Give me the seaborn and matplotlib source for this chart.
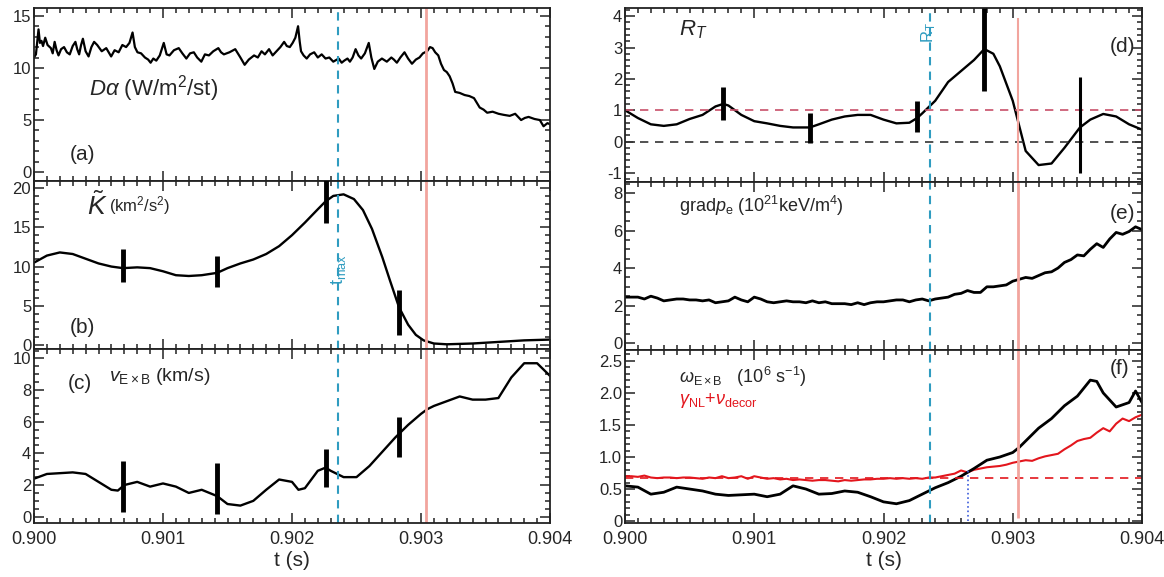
import numpy as np
import matplotlib
matplotlib.use("Agg")
import matplotlib.pyplot as plt
from matplotlib.ticker import MultipleLocator, FuncFormatter
import seaborn as sns

# ---- data (t in ms after 0.900 s) ----
t_da = [0.000, 0.015, 0.035, 0.046, 0.058, 0.070, 0.087, 0.105, 0.131, 0.145, 0.160, 0.175,
        0.190, 0.210, 0.233, 0.255, 0.277, 0.300, 0.321, 0.335, 0.350, 0.365, 0.379, 0.400,
        0.423, 0.445, 0.466, 0.490, 0.525, 0.560, 0.598, 0.625, 0.656, 0.685, 0.714, 0.740,
        0.764, 0.782, 0.802, 0.830, 0.860, 0.885, 0.904, 0.925, 0.948, 0.975, 1.006, 1.028,
        1.050, 1.085, 1.122, 1.150, 1.181, 1.210, 1.239, 1.265, 1.297, 1.325, 1.356, 1.390,
        1.429, 1.450, 1.472, 1.515, 1.560, 1.600, 1.633, 1.665, 1.706, 1.735, 1.764, 1.790,
        1.822, 1.850, 1.880, 1.910, 1.939, 1.960, 1.983, 2.005, 2.026, 2.047, 2.060, 2.070,
        2.090, 2.114, 2.140, 2.172, 2.200, 2.230, 2.260, 2.289, 2.320, 2.362, 2.385, 2.405,
        2.430, 2.449, 2.470, 2.493, 2.515, 2.536, 2.565, 2.595, 2.615, 2.638, 2.665, 2.697,
        2.735, 2.770, 2.790, 2.813, 2.840, 2.872, 2.900, 2.930, 2.960, 2.988, 3.015, 3.047,
        3.070, 3.090, 3.110, 3.134, 3.155, 3.178, 3.200, 3.222, 3.245, 3.265, 3.300, 3.338,
        3.375, 3.411, 3.435, 3.455, 3.485, 3.513, 3.555, 3.601, 3.640, 3.688, 3.730, 3.776,
        3.805, 3.834, 3.880, 3.921, 3.950, 3.980, 4.000]
dalpha = [11.0, 11.3, 13.7, 12.4, 12.6, 12.1, 12.9, 12.2, 11.9, 11.4, 12.5, 11.7,
          11.2, 11.8, 12.0, 11.5, 11.3, 12.1, 12.5, 11.8, 11.3, 12.2, 12.8, 11.6,
          11.1, 12.0, 12.5, 12.2, 11.6, 11.9, 11.1, 11.7, 11.5, 12.2, 12.0, 12.4,
          13.4, 12.0, 11.5, 11.4, 11.0, 10.8, 10.5, 10.9, 10.7, 11.2, 12.4, 11.3,
          11.2, 11.7, 11.9, 11.4, 10.9, 11.4, 11.5, 11.0, 10.6, 11.3, 11.2, 11.6,
          11.9, 11.5, 11.3, 11.5, 11.8, 11.0, 10.3, 10.8, 11.2, 11.0, 11.6, 11.3,
          11.8, 11.2, 11.6, 12.0, 12.5, 12.1, 12.0, 12.4, 12.9, 14.0, 12.5, 11.6,
          11.2, 10.9, 11.3, 11.5, 11.0, 11.3, 10.9, 11.0, 10.6, 10.9, 10.5, 10.7,
          10.9, 10.6, 11.0, 11.8, 11.2, 10.9, 11.4, 12.4, 11.0, 9.9, 10.6, 10.9,
          10.6, 11.0, 10.8, 10.5, 11.0, 11.5, 10.9, 10.4, 10.8, 11.0, 11.4, 11.6,
          12.0, 11.9, 11.5, 11.2, 10.4, 9.8, 9.6, 9.2, 8.5, 7.7, 7.6, 7.4,
          7.3, 7.1, 6.6, 6.2, 6.0, 5.7, 5.8, 5.6, 5.5, 5.4, 5.6, 5.0,
          5.2, 5.3, 5.1, 5.0, 4.4, 4.7, 4.6]

t_k = [0.00, 0.10, 0.20, 0.30, 0.40, 0.50, 0.60, 0.69, 0.80, 0.90, 1.00, 1.10, 1.20, 1.30,
       1.42, 1.50, 1.60, 1.70, 1.80, 1.90, 2.00, 2.10, 2.20, 2.26, 2.32, 2.40, 2.48, 2.55,
       2.62, 2.70, 2.76, 2.83, 2.90, 2.96, 3.02, 3.10, 3.20, 3.40, 3.60, 3.80, 4.00]
k_tilde = [10.5, 11.4, 11.8, 11.6, 11.0, 10.4, 10.0, 9.8, 9.9, 9.8, 9.4, 8.9, 8.8, 8.9,
           9.2, 9.8, 10.4, 10.9, 11.6, 12.6, 14.0, 15.6, 17.3, 18.3, 19.0, 19.2, 18.6, 17.2,
           14.8, 11.2, 8.2, 4.8, 2.6, 1.3, 0.6, 0.2, 0.1, 0.2, 0.4, 0.6, 0.7]
k_err_t = [0.69, 1.42, 2.26, 2.83]
k_err_lo = [8.0, 7.4, 15.6, 1.3]
k_err_hi = [12.2, 11.4, 21.0, 7.0]

t_v = [0.00, 0.10, 0.20, 0.30, 0.40, 0.50, 0.60, 0.65, 0.70, 0.80, 0.90, 1.00, 1.10, 1.20,
       1.30, 1.42, 1.50, 1.60, 1.70, 1.80, 1.90, 2.00, 2.05, 2.10, 2.20, 2.26, 2.30, 2.40,
       2.50, 2.60, 2.70, 2.80, 2.90, 3.00, 3.05, 3.10, 3.20, 3.30, 3.40, 3.50, 3.60, 3.70,
       3.80, 3.90, 4.00]
v_exb = [2.4, 2.7, 2.75, 2.8, 2.7, 2.2, 1.7, 1.65, 2.0, 2.2, 1.9, 2.1, 1.9, 1.5,
         1.7, 1.3, 0.8, 0.7, 1.0, 1.7, 2.35, 2.2, 1.7, 1.8, 2.9, 3.1, 2.9, 2.5,
         2.5, 3.2, 4.1, 5.0, 5.8, 6.5, 6.8, 7.0, 7.3, 7.6, 7.4, 7.4, 7.5, 8.8,
         9.7, 9.7, 8.9]
v_err_t = [0.69, 1.42, 2.26, 2.83]
v_err_lo = [0.3, 0.2, 1.9, 3.8]
v_err_hi = [3.5, 3.4, 4.3, 6.3]

t_r = [0.00, 0.10, 0.20, 0.30, 0.40, 0.50, 0.60, 0.70, 0.76, 0.80, 0.90, 1.00, 1.10, 1.20,
       1.30, 1.43, 1.50, 1.60, 1.70, 1.80, 1.90, 2.00, 2.10, 2.20, 2.26, 2.30, 2.40, 2.50,
       2.60, 2.70, 2.78, 2.85, 2.90, 3.00, 3.05, 3.10, 3.20, 3.30, 3.40, 3.52, 3.60, 3.70,
       3.80, 3.90, 4.00]
r_t = [1.0, 0.75, 0.55, 0.5, 0.55, 0.72, 0.85, 1.12, 1.2, 1.15, 0.85, 0.65, 0.58, 0.5,
       0.45, 0.45, 0.55, 0.7, 0.8, 0.85, 0.85, 0.7, 0.58, 0.6, 0.75, 0.9, 1.3, 1.9,
       2.25, 2.6, 2.95, 2.8, 2.4, 1.3, 0.5, -0.3, -0.75, -0.7, -0.2, 0.45, 0.7, 0.88,
       0.8, 0.55, 0.38]
r_err_t = [0.76, 1.43, 2.26, 2.78, 3.52]
r_err_lo = [0.7, -0.05, 0.32, 1.6, -1.0]
r_err_hi = [1.75, 0.9, 1.3, 4.25, 2.05]

grad_pe = [2.45, 2.45, 2.45, 2.35, 2.5, 2.4, 2.25, 2.3, 2.35, 2.35,
           2.3, 2.3, 2.25, 2.3, 2.15, 2.2, 2.25, 2.45, 2.3, 2.2,
           2.45, 2.35, 2.2, 2.15, 2.2, 2.25, 2.2, 2.2, 2.15, 2.25,
           2.15, 2.2, 2.1, 2.1, 2.1, 2.05, 2.15, 2.05, 2.15, 2.2,
           2.2, 2.25, 2.3, 2.3, 2.2, 2.3, 2.35, 2.25, 2.35, 2.4,
           2.45, 2.6, 2.65, 2.8, 2.7, 2.7, 3.0, 3.0, 3.05, 3.1,
           3.3, 3.4, 3.5, 3.45, 3.6, 3.75, 3.8, 4.0, 4.3, 4.45,
           4.7, 4.65, 5.0, 5.3, 5.1, 5.55, 5.9, 5.8, 5.95, 6.2, 6.05]

t_w = [0.00, 0.10, 0.20, 0.30, 0.40, 0.50, 0.60, 0.70, 0.80, 0.90, 1.00, 1.10, 1.20, 1.30,
       1.40, 1.50, 1.60, 1.70, 1.80, 1.90, 2.00, 2.10, 2.20, 2.30, 2.40, 2.50, 2.60, 2.70,
       2.80, 2.90, 3.00, 3.05, 3.10, 3.20, 3.30, 3.40, 3.50, 3.60, 3.65, 3.70, 3.80, 3.90,
       3.95, 4.00]
w_exb = [0.55, 0.53, 0.42, 0.45, 0.53, 0.5, 0.47, 0.42, 0.40, 0.41, 0.42, 0.38, 0.42, 0.55,
         0.5, 0.42, 0.43, 0.47, 0.45, 0.38, 0.3, 0.27, 0.32, 0.42, 0.52, 0.6, 0.7, 0.82,
         0.95, 1.0, 1.07, 1.15, 1.25, 1.45, 1.6, 1.8, 1.95, 2.2, 2.18, 2.0, 1.78, 1.85,
         2.03, 1.85]
gamma_nl = [0.7, 0.7, 0.69, 0.71, 0.68, 0.67, 0.68, 0.68, 0.67, 0.68,
            0.68, 0.67, 0.66, 0.68, 0.67, 0.7, 0.67, 0.68, 0.7, 0.66,
            0.7, 0.68, 0.66, 0.67, 0.65, 0.66, 0.64, 0.65, 0.64, 0.63,
            0.64, 0.64, 0.63, 0.62, 0.64, 0.63, 0.64, 0.65, 0.65, 0.66,
            0.66, 0.67, 0.66, 0.67, 0.66, 0.67, 0.66, 0.68, 0.68, 0.7,
            0.72, 0.74, 0.79, 0.76, 0.8, 0.82, 0.84, 0.85, 0.86, 0.88,
            0.91, 0.93, 0.95, 0.94, 0.98, 1.01, 1.03, 1.05, 1.12, 1.18,
            1.25, 1.28, 1.3, 1.38, 1.45, 1.4, 1.52, 1.6, 1.56, 1.62, 1.66]

t_blue, t_pink, t_dot = 0.90236, 0.90304, 0.90265
gamma_level = 0.67

# ---- style ----
sns.set_style("ticks")
plt.rcParams['font.family'] = ['Liberation Sans', 'DejaVu Sans']
plt.rcParams['mathtext.fontset'] = 'custom'
plt.rcParams['mathtext.rm'] = 'Liberation Sans'
plt.rcParams['mathtext.it'] = 'Liberation Sans:italic'
plt.rcParams['mathtext.bf'] = 'Liberation Sans:bold'

BLUE = '#2f9cc0'
PINK = '#f2a59e'
RED = '#e3161d'

def sec(ms):
    return 0.9 + np.asarray(ms) / 1000.0

W, H = 1164, 577
fig = plt.figure(figsize=(W / 100, H / 100), dpi=100)

def box(x0, x1, y0, y1):
    return [x0 / W, 1 - y1 / H, (x1 - x0) / W, (y1 - y0) / H]

def style(ax, ylim, major, minor, bottom=False, dec=False):
    ax.set_xlim(0.9, 0.904)
    ax.set_ylim(*ylim)
    ax.xaxis.set_major_locator(MultipleLocator(0.001))
    ax.xaxis.set_minor_locator(MultipleLocator(0.0001))
    ax.yaxis.set_major_locator(MultipleLocator(major))
    ax.yaxis.set_minor_locator(MultipleLocator(minor))
    ax.tick_params(which='both', direction='in', top=True, right=True, width=1.1, color='#222')
    ax.tick_params(which='major', length=7, labelsize=12, pad=2)
    ax.tick_params(which='minor', length=3.5)
    if dec:
        ax.yaxis.set_major_formatter(FuncFormatter(lambda v, p: '0' if abs(v) < 1e-9 else f'{v:.1f}'))
    else:
        ax.yaxis.set_major_formatter(FuncFormatter(lambda v, p: f'{round(v):d}'))
    if bottom:
        ax.xaxis.set_major_formatter(FuncFormatter(lambda v, p: f'{v:.3f}'))
        ax.tick_params(axis='x', pad=6, labelsize=13)
        ax.set_xlabel('t (s)', fontsize=15, labelpad=2)
    else:
        ax.tick_params(axis='x', labelbottom=False)
    for s in ax.spines.values():
        s.set_linewidth(1.3)
        s.set_color('#222')
    ax.set_ylabel('')

def curve(ax, t, y, color='black', lw=1.7):
    sns.lineplot(x=t, y=y, ax=ax, color=color, lw=lw, sort=False, estimator=None)

def bars(ax, t, lo, hi, lw=3.5):
    ax.vlines(sec(t), lo, hi, color='black', lw=lw, zorder=4)

# left column
ax_a = fig.add_axes(box(34, 550, 8, 181))
ax_b = fig.add_axes(box(34, 550, 181, 349))
ax_c = fig.add_axes(box(34, 550, 349, 523))
# right column
ax_d = fig.add_axes(box(625, 1142, 8, 182))
ax_e = fig.add_axes(box(625, 1142, 182, 350))
ax_f = fig.add_axes(box(625, 1142, 350, 523))

# (a)
curve(ax_a, sec(t_da), dalpha, lw=1.6)
ax_a.axvline(t_blue, color=BLUE, ls='--', lw=1.5, dashes=(4, 3))
ax_a.axvline(t_pink, color=PINK, lw=2)
style(ax_a, (-0.85, 15.75), 5, 1)
ax_a.text(0.90043, 7.4, r'$D\alpha$ (W/m$^2$/st)', fontsize=16)
ax_a.text(0.90028, 1.2, '(a)', fontsize=15)

# (b)
curve(ax_b, sec(t_k), k_tilde)
bars(ax_b, k_err_t, k_err_lo, k_err_hi)
ax_b.axvline(t_blue, color=BLUE, ls='--', lw=1.5, dashes=(4, 3))
ax_b.axvline(t_pink, color=PINK, lw=2)
style(ax_b, (-0.5, 20.9), 5, 1)
ax_b.text(0.90041, 16.6, r'$\tilde{K}$', fontsize=19)
ax_b.text(0.90058, 17.0, r'(km$^2$/s$^2$)', fontsize=12)
ax_b.text(0.90028, 1.5, '(b)', fontsize=15)
ax_b.text(0.90229, 8.3, r't$_{\rm max}$', color=BLUE, fontsize=13, rotation=90)

# (c)
curve(ax_c, sec(t_v), v_exb)
bars(ax_c, v_err_t, v_err_lo, v_err_hi)
ax_c.axvline(t_blue, color=BLUE, ls='--', lw=1.5, dashes=(4, 3))
ax_c.axvline(t_pink, color=PINK, lw=2)
style(ax_c, (-0.4, 10.6), 2, 0.5, bottom=True)
ax_c.text(0.90026, 8.1, '(c)', fontsize=15)
ax_c.text(0.90058, 8.6, r'$v_{\rm E\times B}$ (km/s)', fontsize=14)

# (d)
curve(ax_d, sec(t_r), r_t)
bars(ax_d, r_err_t[:4], r_err_lo[:4], r_err_hi[:4])
bars(ax_d, r_err_t[4:], r_err_lo[4:], r_err_hi[4:], lw=2.2)
ax_d.axhline(1.0, color='#c8506a', ls='--', lw=1.2, dashes=(5, 4))
ax_d.axhline(0.0, color='#333333', ls='--', lw=1.2, dashes=(5, 4))
ax_d.axvline(t_blue, color=BLUE, ls='--', lw=1.5, dashes=(4, 3))
ax_d.vlines(t_pink, -1.3, 3.95, color=PINK, lw=1.5)
style(ax_d, (-1.29, 4.26), 1, 0.2)
ax_d.text(0.90042, 3.4, r'$R_T$', fontsize=16)
ax_d.text(0.90375, 2.85, '(d)', fontsize=15)
ax_d.text(0.90228, 3.3, r'R$_{\rm T}$', color=BLUE, fontsize=12, rotation=90)

# (e)
curve(ax_e, np.linspace(0.9, 0.904, len(grad_pe)), grad_pe, lw=2)
ax_e.axvline(t_blue, color=BLUE, ls='--', lw=1.5, dashes=(4, 3))
ax_e.axvline(t_pink, color=PINK, lw=2)
style(ax_e, (-0.37, 8.59), 2, 0.5)
ax_e.text(0.90042, 7.0, r'grad$p_{\rm e}$ (10$^{21}$keV/m$^4$)', fontsize=13)
ax_e.text(0.90375, 6.6, '(e)', fontsize=15)

# (f)
curve(ax_f, np.linspace(0.9, 0.904, len(gamma_nl)), gamma_nl, color=RED, lw=1.5)
curve(ax_f, sec(t_w), w_exb, lw=2)
ax_f.axhline(gamma_level, color=RED, ls='--', lw=1.2, dashes=(5, 4))
ax_f.axvline(t_blue, color=BLUE, ls='--', lw=1.5, dashes=(4, 3))
ax_f.vlines(t_dot, 0, 0.8, color='#3b5bdb', ls=':', lw=1.2)
ax_f.vlines(t_pink, 0.05, 2.67, color=PINK, lw=2)
style(ax_f, (-0.03, 2.67), 0.5, 0.1, bottom=True, dec=True)
ax_f.text(0.90042, 2.16, r'$\omega_{\rm E\times B}$   (10$^6$ s$^{-1}$)', fontsize=13)
ax_f.text(0.90042, 1.83, r'$\gamma_{\rm NL}$+$\nu_{\rm decor}$', fontsize=13, color=RED)
ax_f.text(0.90375, 2.3, '(f)', fontsize=15)

fig.savefig('out.png', dpi=100)
